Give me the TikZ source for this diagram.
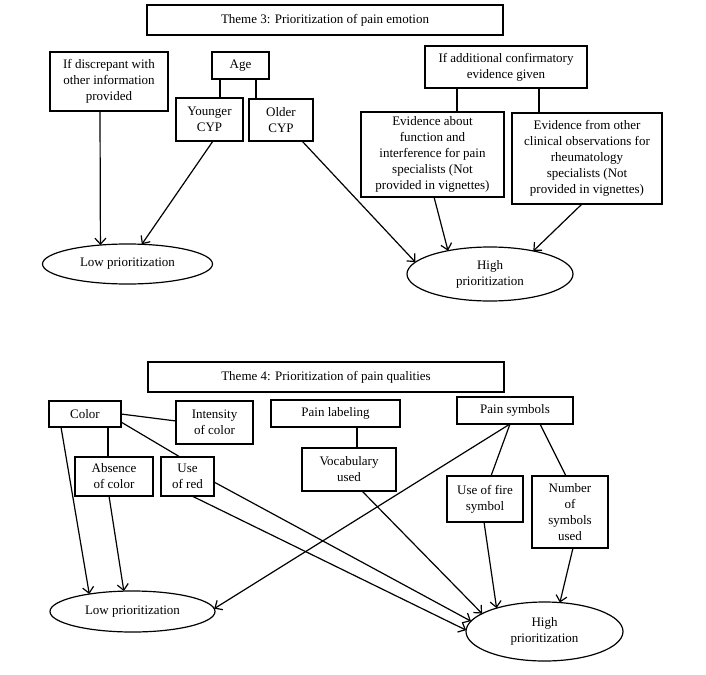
\documentclass[tikz,border=0pt]{standalone}
\usepackage{fontspec}
\setmainfont{Liberation Serif}
\usetikzlibrary{arrows.meta,shapes.geometric}
\tikzset{
  box/.style={draw, line width=1.2pt, align=center, inner sep=0pt, outer sep=0pt, font=\fontsize{13}{16}\selectfont},
  oval/.style={draw, ellipse, line width=1.2pt, align=center, inner sep=0pt, outer sep=0pt, font=\fontsize{13}{16}\selectfont},
  link/.style={line width=1.2pt},
  arr/.style={line width=1.2pt, -{Straight Barb[length=6pt,width=11pt,line width=1.2pt]}},
}
\begin{document}
\begin{tikzpicture}[x=1pt,y=-1pt]
\useasboundingbox (0,0) rectangle (706,674);
% Theme 3
\node[box, minimum width=356, minimum height=30] (t3) at (325,20) {Theme 3: Prioritization of pain emotion};
\node[box, minimum width=118, minimum height=59] (disc) at (109,81.5) {If discrepant with\\other information\\provided};
\node[box, minimum width=57, minimum height=27] (age) at (240.5,65.5) {Age};
\node[box, minimum width=67, minimum height=43] (young) at (209.5,119.5) {Younger\\CYP};
\node[box, minimum width=64, minimum height=42] (older) at (281,120) {Older\\CYP};
\node[box, minimum width=162, minimum height=42] (addl) at (506,67) {If additional confirmatory\\evidence given};
\node[box, minimum width=143, minimum height=85] (evabout) at (432.5,154.5) {Evidence about\\function and\\interference for pain\\specialists (Not\\provided in vignettes)};
\node[box, minimum width=150, minimum height=91] (evother) at (587,158.5) {Evidence from other\\clinical observations for\\rheumatology\\specialists (Not\\provided in vignettes)};
\node[oval, minimum width=170, minimum height=40] (low3) at (127.5,264) {Low prioritization};
\node[oval, minimum width=166, minimum height=54] (high3) at (490,274) {High\\prioritization};

\draw[link] ([xshift=-20.5pt]age.south) -- ([xshift=10.5pt]young.north);
\draw[link] ([xshift=15.5pt]age.south) -- ([xshift=-25pt]older.north);
\draw[link] ([xshift=-49pt]addl.south) -- ([xshift=24.5pt]evabout.north);
\draw[link] ([xshift=33pt]addl.south) -- ([xshift=-48pt]evother.north);

\draw[arr] ([xshift=-9pt]disc.south) -- (low3.145);
\draw[arr] ([xshift=3.5pt]young.south) -- (low3.54);
\draw[arr] ([xshift=21pt]older.south) -- (high3.171);
\draw[arr] ([xshift=1.5pt]evabout.south) -- (high3.151);
\draw[arr] ([xshift=-5pt]evother.south) -- (high3.28);

% Theme 4
\node[box, minimum width=356, minimum height=30] (t4) at (326,377) {Theme 4: Prioritization of pain qualities};
\node[box, minimum width=72, minimum height=26] (color) at (85,414) {Color};
\node[box, minimum width=77, minimum height=43] (intens) at (214.5,422.5) {Intensity\\of color};
\node[box, minimum width=129, minimum height=27] (plabel) at (335.5,413.5) {Pain labeling};
\node[box, minimum width=94, minimum height=43] (vocab) at (349,469.5) {Vocabulary\\used};
\node[box, minimum width=78, minimum height=39] (absence) at (114,476.5) {Absence\\of color};
\node[box, minimum width=53, minimum height=39] (usered) at (187.5,476.5) {Use\\of red};
\node[box, minimum width=116, minimum height=27] (psym) at (515,410.5) {Pain symbols};
\node[box, minimum width=76, minimum height=46] (fire) at (485,499) {Use of fire\\symbol};
\node[box, minimum width=76, minimum height=72] (number) at (570,512) {Number\\of\\symbols\\used};
\node[oval, minimum width=165, minimum height=41] (low4) at (132.5,611.5) {Low prioritization};
\node[oval, minimum width=157, minimum height=59] (high4) at (544.5,631.5) {High\\prioritization};

\draw[link] (color.east) -- ([yshift=1.5pt]intens.west);
\draw[link] ([yshift=5pt]color.south east) -- ([xshift=-7.5pt]usered.north);
\draw[link] ([xshift=23pt]color.south) -- ([xshift=-6pt]absence.north);
\draw[link] ([xshift=21.5pt]plabel.south) -- ([xshift=8pt]vocab.north);
\draw[link] ([xshift=-5pt]psym.south) -- ([xshift=6pt]fire.north);
\draw[link] ([xshift=25pt]psym.south) -- ([xshift=-4pt]number.north);

\draw[arr] ([xshift=-24pt]color.south) -- (low4.158);
\draw[arr] ([xshift=-5pt]absence.south) -- (low4.113);
\draw[arr] ([xshift=4.5pt]usered.south) -- (high4.179);
\draw[arr] ([yshift=-5.5pt]usered.east) -- (high4.172);
\draw[arr] ([xshift=13pt]vocab.south) -- (high4.164);
\draw[arr] ([xshift=-5pt]psym.south) -- (low4.2);
\draw[arr] ([xshift=-1pt]fire.south) -- (high4.154);
\draw[arr] ([xshift=3pt]number.south) -- (high4.62);
\end{tikzpicture}
\end{document}
